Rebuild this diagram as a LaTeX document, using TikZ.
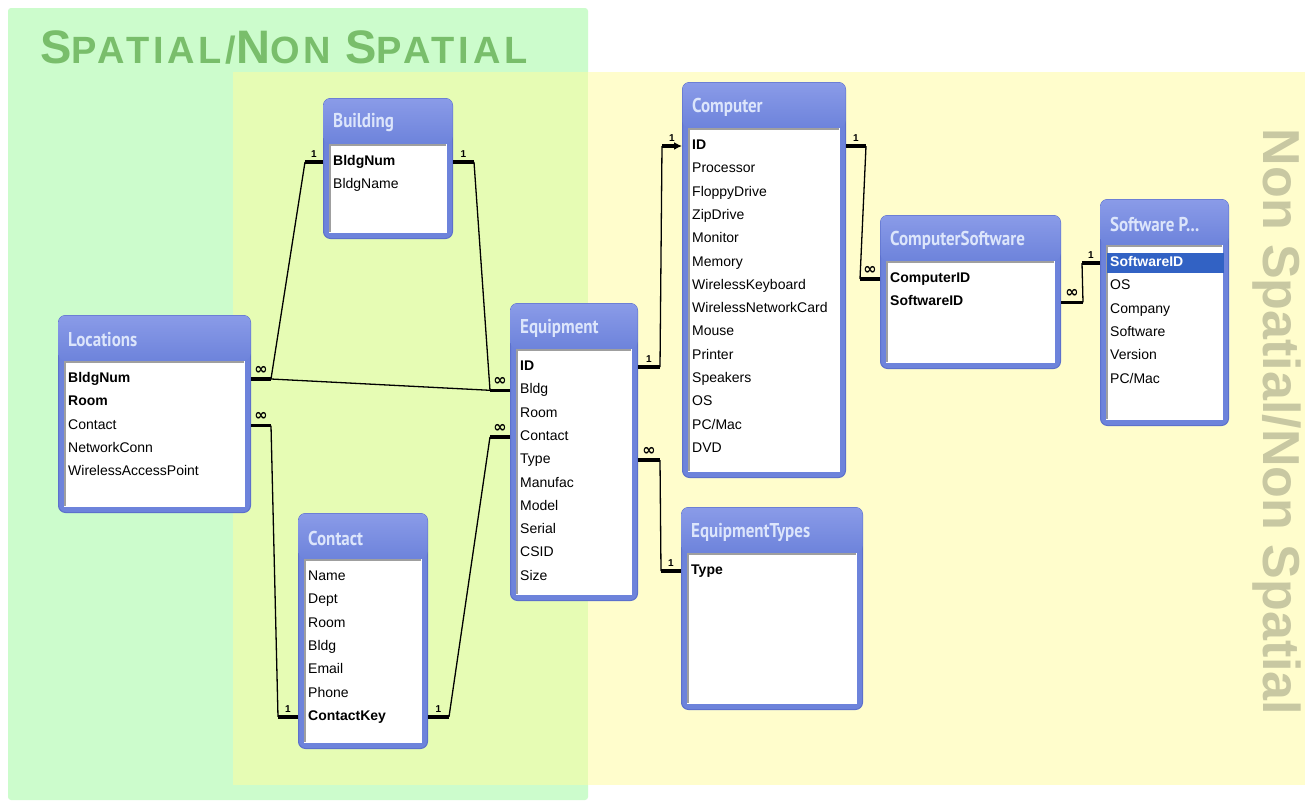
\documentclass[tikz,border=0pt]{standalone}
\usepackage{fontspec}
\setmainfont{Liberation Sans}
\newfontfamily\headfont{PT Sans}
\newfontfamily\symfont{DejaVu Sans}
\usetikzlibrary{arrows.meta,positioning}

\definecolor{spatialgreen}{HTML}{CCFCCC}
\definecolor{mixgreen}{HTML}{E6FCB4}
\definecolor{nonyellow}{HTML}{FFFDCC}
\definecolor{titlegreen}{HTML}{79BE6B}
\definecolor{sidegray}{HTML}{C8C8A2}
\definecolor{tblframe}{HTML}{6D83DB}
\definecolor{tbledge}{HTML}{5C70CC}
\definecolor{hdtop}{HTML}{8A9BE8}
\definecolor{hdtext}{HTML}{DCE5FB}
\definecolor{selblue}{HTML}{3262C4}

\tikzset{
  tblbox/.style={draw=tbledge, fill=tblframe, line width=1pt, rounded corners=7pt, inner sep=0pt, anchor=north west},
  tbltitle/.style={font=\headfont\bfseries\fontsize{20}{20}\selectfont, text=hdtext, anchor=west, inner sep=0pt},
  fld/.style={font=\fontsize{14}{14}\selectfont, anchor=west, inner sep=0pt, text height=10pt, text depth=3pt},
  rel/.style={line width=1.3pt},
  stub/.style={line width=3.5pt},
  card/.style={font=\bfseries\fontsize{10}{10}\selectfont, inner sep=0pt, above=3pt, midway},
}

\newcommand{\many}{{\symfont\bfseries\fontsize{16}{16}\selectfont ∞}}
\newcommand{\sel}[1]{\hspace*{-3pt}{\setlength{\fboxsep}{3pt}\colorbox{selblue}{\makebox[111pt][l]{\rule[-3pt]{0pt}{13pt}\color{white}\bfseries #1}}}}

% name, x, y, width, height, title, fields
\newcommand{\dbtable}[7]{%
  \node[tblbox, minimum width=#4pt, minimum height=#5pt] (#1) at (#2,#3) {};
  \shade[top color=hdtop, bottom color=tblframe, rounded corners=7pt] ([shift={(0.5pt,-0.5pt)}]#1.north west) rectangle ([shift={(-0.5pt,-46pt)}]#1.north east);
  \node[tbltitle] (#1-t) at ([shift={(10pt,-25pt)}]#1.north west) {\scalebox{0.85}[1]{#6}};
  \fill[white] ([shift={(6pt,-46pt)}]#1.north west) rectangle ([shift={(-6pt,6pt)}]#1.south east);
  \draw[gray!75, line width=1.5pt] ([shift={(7pt,7pt)}]#1.south west) |- ([shift={(-7pt,-47pt)}]#1.north east);
  \foreach \f [count=\i] in {#7}
    \node[fld] (#1-\i) at ([shift={(10pt,{-40.7pt-23.3pt*\i})}]#1.north west) {\f};
}

\begin{document}
\begin{tikzpicture}[x=1pt, y=-1pt]
\useasboundingbox (0,0) rectangle (1312,804);
\fill[white] (0,0) rectangle (1312,804);

% the two areas
\fill[spatialgreen, rounded corners=3pt] (8,8) rectangle (588,800);
\fill[nonyellow] (233,72) rectangle (1305,785);
\fill[mixgreen] (233,72) rectangle (588,785);

\node[anchor=west, inner sep=0pt, text=titlegreen, font=\bfseries\addfontfeatures{LetterSpace=10}] (title) at (40,47)
  {\fontsize{47}{47}\selectfont S\fontsize{38}{38}\selectfont PATIAL/\fontsize{47}{47}\selectfont N\fontsize{38}{38}\selectfont ON \fontsize{47}{47}\selectfont S\fontsize{38}{38}\selectfont PATIAL};
\node[rotate=-90, inner sep=0pt, text=sidegray, font=\bfseries\fontsize{52}{52}\selectfont] (side) at (1277,422) {Non Spatial/Non Spatial};

% tables
\dbtable{loc}{58}{315}{192}{197}{Locations}{\textbf{BldgNum}, \textbf{Room}, Contact, NetworkConn, WirelessAccessPoint}
\dbtable{bld}{323}{98}{129}{140}{Building}{\textbf{BldgNum}, BldgName}
\dbtable{eqp}{510}{303}{127}{297}{Equipment}{\textbf{ID}, Bldg, Room, Contact, Type, Manufac, Model, Serial, CSID, Size}
\dbtable{cmp}{682}{82}{163}{395}{Computer}{\textbf{ID}, Processor, FloppyDrive, ZipDrive, Monitor, Memory, WirelessKeyboard, WirelessNetworkCard, Mouse, Printer, Speakers, OS, PC/Mac, DVD}
\dbtable{csw}{880}{215}{180}{153}{ComputerSoftware}{\textbf{ComputerID}, \textbf{SoftwareID}}
\dbtable{swp}{1100}{199}{128}{226}{Software P...}{\sel{SoftwareID}, OS, Company, Software, Version, PC/Mac}
\dbtable{con}{298}{513}{129}{235}{Contact}{Name, Dept, Room, Bldg, Email, Phone, \textbf{ContactKey}}
\dbtable{ety}{681}{507}{181}{202}{EquipmentTypes}{\textbf{Type}}

% stubs
\draw[stub] (loc.east |- loc-1) -- ++(20,0) node[card] {\many} coordinate (lb1);
\draw[stub] (loc.east |- loc-3) -- ++(20,0) node[card] {\many} coordinate (lc3);
\draw[stub] (bld.west |- bld-1) -- ++(-18,0) node[card] {1} coordinate (bl1);
\draw[stub] (bld.east |- bld-1) -- ++(21,0) node[card] {1} coordinate (br1);
\draw[stub] (eqp.west |- eqp-2) -- ++(-20,0) node[card] {\many} coordinate (el2);
\draw[stub] (eqp.west |- eqp-4) -- ++(-20,0) node[card] {\many} coordinate (el4);
\draw[stub] (eqp.east |- eqp-1) -- ++(22,0) node[card] {1} coordinate (er1);
\draw[stub] (eqp.east |- eqp-5) -- ++(22,0) node[card] {\many} coordinate (er5);
\draw[stub] (con.west |- con-7) -- ++(-20,0) node[card] {1} coordinate (cl7);
\draw[stub] (con.east |- con-7) -- ++(21,0) node[card] {1} coordinate (cr7);
\coordinate (ci1) at ([xshift=-20pt]cmp.west |- cmp-1);
\draw[stub, -{Latex[length=8pt,width=8pt]}] (ci1) -- (cmp.west |- cmp-1) node[card] {1};
\draw[stub] (cmp.east |- cmp-1) -- ++(20,0) node[card] {1} coordinate (cr1);
\draw[stub] (csw.west |- csw-1) -- ++(-20,0) node[card] {\many} coordinate (sl1);
\draw[stub] (csw.east |- csw-2) -- ++(22,0) node[card] {\many} coordinate (sr2);
\draw[stub] (swp.west |- swp-1) -- ++(-18,0) node[card] {1} coordinate (pl1);
\draw[stub] (ety.west |- ety-1) -- ++(-20,0) node[card] {1} coordinate (tl1);

% relationship lines
\draw[rel] (lb1) -- (bl1);
\draw[rel] (lb1) -- (el2);
\draw[rel] (br1) -- (el2);
\draw[rel] (lc3) -- (cl7);
\draw[rel] (cr7) -- (el4);
\draw[rel] (er1) -- (ci1);
\draw[rel] (cr1) -- (sl1);
\draw[rel] (sr2) -- (pl1);
\draw[rel] (er5) -- (tl1);

\end{tikzpicture}
\end{document}
